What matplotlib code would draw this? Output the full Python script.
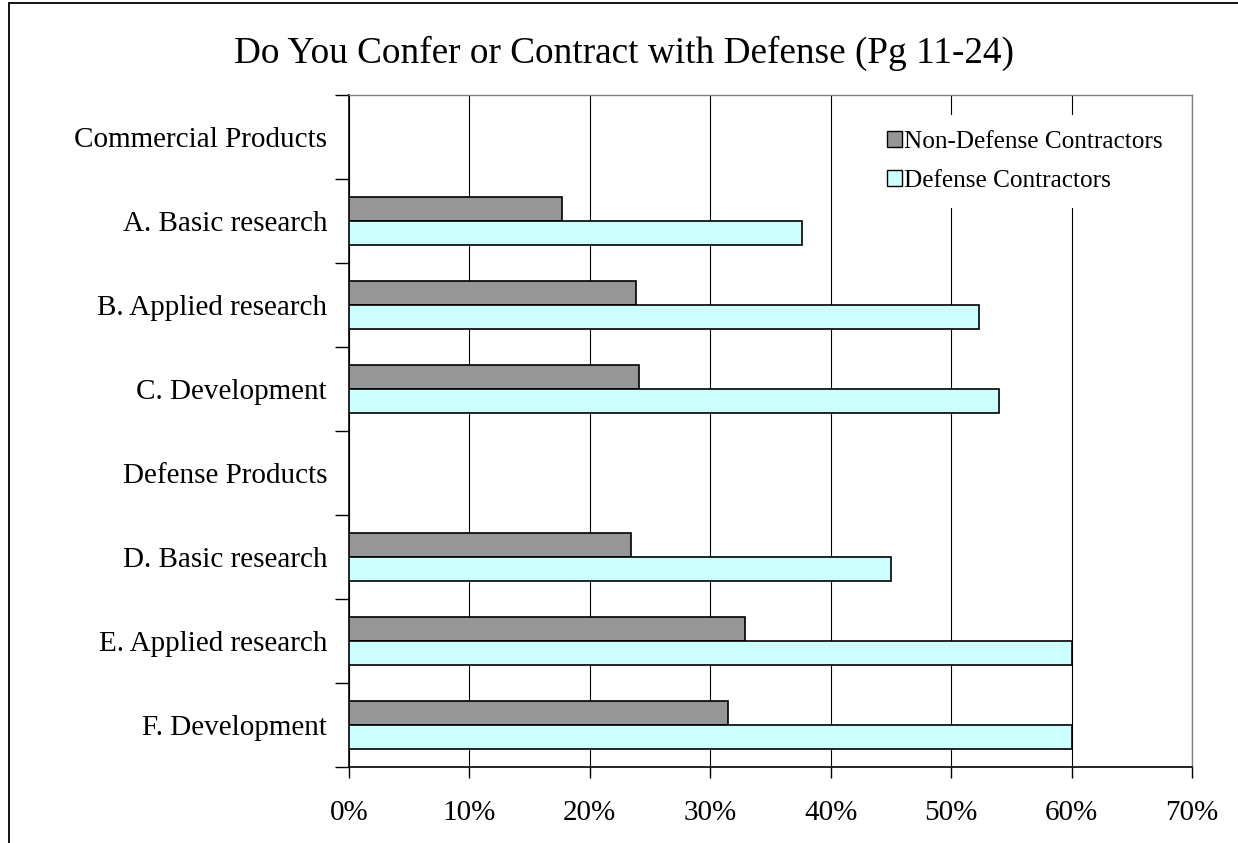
import numpy as np
import matplotlib
matplotlib.use("Agg")
import matplotlib.pyplot as plt
from matplotlib.patches import Rectangle, Patch

# Survey categories (header rows carry no values)
categories = [
    "Commercial Products",
    "A. Basic research",
    "B. Applied research",
    "C. Development",
    "Defense Products",
    "D. Basic research",
    "E. Applied research",
    "F. Development",
]
non_defense = [np.nan, 17.7, 23.8, 24.1, np.nan, 23.4, 32.9, 31.5]
defense = [np.nan, 37.6, 52.3, 54.0, np.nan, 45.0, 60.0, 60.0]
series_names = ["Non-Defense Contractors", "Defense Contractors"]
series_colors = ["#969696", "#CCFFFF"]
x_ticks = [0, 10, 20, 30, 40, 50, 60, 70]
x_tick_labels = [f"{v}%" for v in x_ticks]
title = "Do You Confer or Contract with Defense (Pg 11-24)"

plt.rcParams["font.family"] = ["Liberation Serif", "DejaVu Serif"]

W, H = 1238, 843
fig = plt.figure(figsize=(W / 100, H / 100), dpi=100)
ax = fig.add_axes([349 / W, 1 - 767 / H, (1192 - 349) / W, (767 - 95) / H])

pos = np.arange(len(categories))
bar_h = 24 / 84

for vals, color, offset in [(non_defense, series_colors[0], -0.5),
                            (defense, series_colors[1], 0.5)]:
    v = np.array(vals, dtype=float)
    ok = ~np.isnan(v)
    ax.barh(pos[ok] + offset * bar_h, v[ok], height=bar_h, color=color,
            edgecolor="black", linewidth=1.2, zorder=3)

ax.set_xlim(0, 70)
ax.set_ylim(len(categories) - 0.5, -0.5)

# x axis
ax.set_xticks(x_ticks)
ax.set_xticklabels(x_tick_labels, fontsize=21)
ax.tick_params(axis="x", direction="out", length=8, width=1.0, pad=16)
ax.grid(axis="x", color="black", linewidth=0.8, zorder=1)

# y axis: tick marks between categories, labels at centres
ax.set_yticks(np.arange(-0.5, len(categories), 1.0))
ax.set_yticklabels([])
ax.set_yticks(pos, minor=True)
ax.set_yticklabels(categories, minor=True, fontsize=21)
ax.tick_params(axis="y", which="major", direction="out", length=10, width=1.0)
ax.tick_params(axis="y", which="minor", length=0, pad=15.8)

for side in ["left", "bottom"]:
    ax.spines[side].set_color("black")
    ax.spines[side].set_linewidth(1.2)
for side in ["top", "right"]:
    ax.spines[side].set_color("#808080")
    ax.spines[side].set_linewidth(1.0)
ax.set_axisbelow(True)

handles = [Patch(facecolor=c, edgecolor="black", linewidth=1.0) for c in series_colors]
leg = ax.legend(handles, series_names, loc="upper left",
                bbox_to_anchor=(871 / W, 1 - 115 / H), bbox_transform=fig.transFigure,
                fontsize=18.2, frameon=True, fancybox=False, edgecolor="none",
                facecolor="white", framealpha=1.0, handlelength=0.6, handleheight=0.6,
                handletextpad=0.08, labelspacing=0.7, borderpad=0.62, borderaxespad=0)
leg.set_zorder(5)

fig.text(624 / W, 1 - 63 / H, title, ha="center", va="baseline", fontsize=26.8)

# outer frame around the chart area
fig.add_artist(Rectangle((8.5 / W, -0.1), 1.2, 1.1 - 3.5 / H, transform=fig.transFigure,
                         fill=False, edgecolor="black", linewidth=1.3))

fig.savefig("out.png", dpi=100)
